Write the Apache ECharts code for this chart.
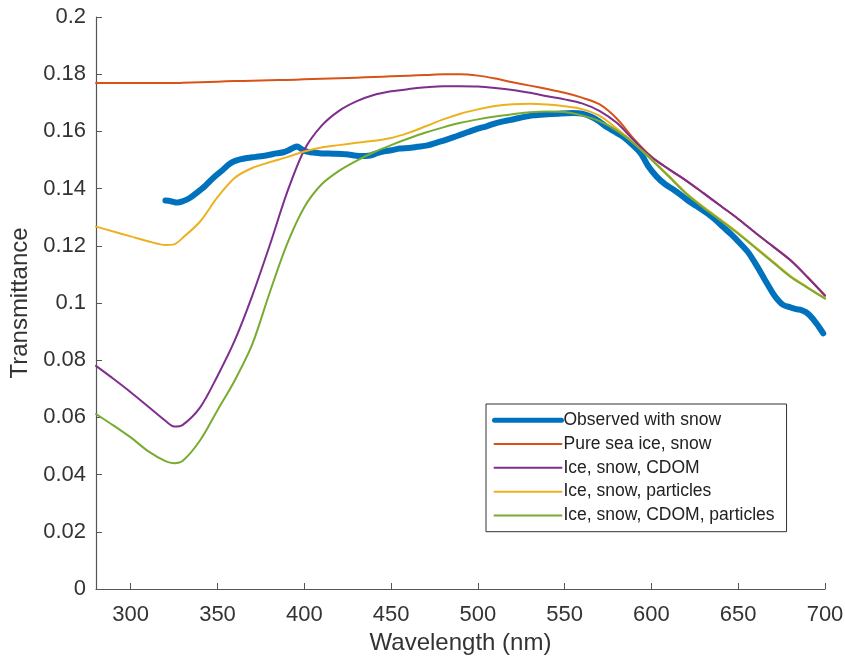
<!DOCTYPE html>
<html>
<head>
<meta charset="utf-8">
<script src="https://cdn.jsdelivr.net/npm/echarts@6/dist/echarts.min.js"></script>
<style>
  html, body { margin: 0; padding: 0; background: #fff; }
  #chart { width: 845px; height: 660px; }
</style>
</head>
<body>
<div id="chart"></div>
<script>
// Wavelength grid (nm) for the modelled spectra
const modelWl = [280, 290, 300, 310, 320, 325, 330, 340, 350, 360, 370, 380, 390, 400, 410, 420, 430, 440, 450, 460, 470, 480, 490, 500, 510, 520, 530, 540, 550, 560, 570, 580, 590, 600, 610, 620, 630, 640, 650, 660, 670, 680, 690, 700];

// Modelled transmittance
const pureIceSnow = [0.1769, 0.1769, 0.1769, 0.1769, 0.1769, 0.1769, 0.1770, 0.1772, 0.1774, 0.1776, 0.1777, 0.1779, 0.1780, 0.1782, 0.1784, 0.1786, 0.1788, 0.1790, 0.1793, 0.1795, 0.1797, 0.1800, 0.1800, 0.1795, 0.1785, 0.1772, 0.1760, 0.1748, 0.1735, 0.1718, 0.1695, 0.1645, 0.1573, 0.1512, 0.1468, 0.1428, 0.1384, 0.1339, 0.1294, 0.1245, 0.1198, 0.1150, 0.1090, 0.1027];
const iceSnowCdom = [0.0780, 0.0735, 0.0688, 0.0638, 0.0588, 0.0568, 0.0574, 0.0635, 0.0745, 0.0870, 0.1025, 0.1200, 0.1385, 0.1535, 0.1620, 0.1672, 0.1705, 0.1727, 0.1740, 0.1748, 0.1754, 0.1758, 0.1758, 0.1757, 0.1752, 0.1745, 0.1735, 0.1723, 0.1712, 0.1698, 0.1672, 0.1630, 0.1568, 0.1510, 0.1468, 0.1428, 0.1384, 0.1339, 0.1294, 0.1245, 0.1198, 0.1150, 0.1090, 0.1025];
const iceSnowParticles = [0.1267, 0.1250, 0.1233, 0.1216, 0.1203, 0.1205, 0.1228, 0.1285, 0.1370, 0.1438, 0.1472, 0.1492, 0.1510, 0.1530, 0.1544, 0.1552, 0.1560, 0.1567, 0.1577, 0.1595, 0.1618, 0.1642, 0.1662, 0.1677, 0.1689, 0.1695, 0.1697, 0.1694, 0.1688, 0.1678, 0.1655, 0.1610, 0.1558, 0.1503, 0.1445, 0.1385, 0.1336, 0.1291, 0.1245, 0.1195, 0.1145, 0.1095, 0.1055, 0.1017];
const iceSnowCdomParticles = [0.0612, 0.0572, 0.0530, 0.0482, 0.0447, 0.0440, 0.0448, 0.0520, 0.0625, 0.0730, 0.0855, 0.1035, 0.1205, 0.1335, 0.1415, 0.1462, 0.1497, 0.1527, 0.1552, 0.1575, 0.1596, 0.1614, 0.1630, 0.1642, 0.1652, 0.1660, 0.1667, 0.1670, 0.1668, 0.1656, 0.1636, 0.1603, 0.1557, 0.1501, 0.1442, 0.1382, 0.1333, 0.1288, 0.1242, 0.1192, 0.1142, 0.1092, 0.1053, 0.1015];

// Observed spectrum under snow
const obsWl = [320, 323, 327, 330, 334, 338, 343, 348, 353, 356, 359, 363, 367, 372, 378, 384, 388, 391, 394, 396, 398, 401, 405, 410, 417, 424, 432, 438, 442, 446, 450, 455, 460, 465, 471, 476, 482, 488, 494, 500, 505, 511, 517, 524, 532, 540, 548, 555, 560, 565, 570, 574, 580, 584, 590, 594, 598, 603, 608, 613, 618, 622, 627, 632, 637, 641, 646, 651, 656, 661, 665, 670, 673, 676, 680, 684, 686, 689, 691, 693, 695, 697, 699];
const observed = [0.1358, 0.1356, 0.1351, 0.1356, 0.1367, 0.1385, 0.1410, 0.1440, 0.1465, 0.1482, 0.1494, 0.1502, 0.1507, 0.1511, 0.1516, 0.1523, 0.1527, 0.1534, 0.1544, 0.1547, 0.1540, 0.1530, 0.1526, 0.1523, 0.1522, 0.1520, 0.1514, 0.1516, 0.1524, 0.1530, 0.1534, 0.1540, 0.1542, 0.1546, 0.1551, 0.1560, 0.1571, 0.1584, 0.1597, 0.1610, 0.1618, 0.1630, 0.1638, 0.1647, 0.1656, 0.1660, 0.1663, 0.1664, 0.1662, 0.1652, 0.1635, 0.1616, 0.1595, 0.1580, 0.1548, 0.1522, 0.1480, 0.1442, 0.1415, 0.1395, 0.1373, 0.1354, 0.1335, 0.1314, 0.1290, 0.1267, 0.1240, 0.1209, 0.1175, 0.1127, 0.1085, 0.1034, 0.1010, 0.0993, 0.0985, 0.0978, 0.0976, 0.0968, 0.0958, 0.0945, 0.0929, 0.0912, 0.0894];

const seriesNames = ['Observed with snow', 'Pure sea ice, snow', 'Ice, snow, CDOM', 'Ice, snow, particles', 'Ice, snow, CDOM, particles'];
const seriesColors = ['#0072BD', '#D95319', '#7E2F8E', '#EDB120', '#77AC30'];
const seriesWidths = [6, 2, 2, 2, 2];
const xTicks = [300, 350, 400, 450, 500, 550, 600, 650, 700];

const FONT = '"Liberation Sans", Arial, Helvetica, sans-serif';
const zip = (xs, ys) => xs.map((x, i) => [x, ys[i]]);

function lineSeries(i, xs, ys) {
  return {
    name: seriesNames[i],
    type: 'line',
    data: zip(xs, ys),
    showSymbol: false,
    symbol: 'none',
    smooth: 0.3,
    lineStyle: { color: seriesColors[i], width: seriesWidths[i], cap: 'round', join: 'round' },
    itemStyle: { color: seriesColors[i] },
    emphasis: { disabled: true },
    animation: false
  };
}

const chart = echarts.init(document.getElementById('chart'), null, { renderer: 'canvas' });
chart.setOption({
  backgroundColor: '#fff',
  animation: false,
  textStyle: { fontFamily: FONT },
  grid: { left: 96, top: 17, right: 20, bottom: 71, containLabel: false, outerBoundsMode: 'none' },
  legend: {
    orient: 'vertical',
    left: 486,
    top: 404,
    data: seriesNames.map((n, i) => ({ name: n, lineStyle: { width: i === 0 ? 5 : 2 } })),
    itemWidth: 67,
    itemHeight: 14,
    itemGap: 3.3,
    padding: [6, 12, 6, 6],
    backgroundColor: '#fff',
    borderColor: '#333',
    borderWidth: 1,
    selectedMode: false,
    itemStyle: { opacity: 0 },
    textStyle: { fontFamily: FONT, fontSize: 17.5, lineHeight: 20.5, color: '#222', padding: [0, 0, 0, -3] }
  },
  xAxis: {
    type: 'value',
    min: 280,
    max: 700,
    name: 'Wavelength (nm)',
    nameLocation: 'middle',
    nameGap: 38,
    nameTextStyle: { fontFamily: FONT, fontSize: 24, color: '#333' },
    axisLine: { show: true, onZero: false, lineStyle: { color: '#555', width: 1.2 } },
    axisTick: { show: true, inside: true, length: 6, customValues: xTicks, lineStyle: { color: '#555' } },
    axisLabel: { customValues: xTicks, fontFamily: FONT, fontSize: 22, color: '#333', margin: 15 },
    splitLine: { show: false }
  },
  yAxis: {
    type: 'value',
    min: 0,
    max: 0.2,
    interval: 0.02,
    name: 'Transmittance',
    nameLocation: 'middle',
    nameRotate: 90,
    nameGap: 64,
    nameTextStyle: { fontFamily: FONT, fontSize: 24, color: '#333' },
    axisLine: { show: true, onZero: false, lineStyle: { color: '#555', width: 1.2 } },
    axisTick: { show: true, inside: true, length: 6, lineStyle: { color: '#555' } },
    axisLabel: {
      fontFamily: FONT, fontSize: 22, color: '#333', margin: 10,
      formatter: v => String(+v.toFixed(2))
    },
    splitLine: { show: false }
  },
  series: [
    lineSeries(0, obsWl, observed),
    lineSeries(1, modelWl, pureIceSnow),
    lineSeries(2, modelWl, iceSnowCdom),
    lineSeries(3, modelWl, iceSnowParticles),
    lineSeries(4, modelWl, iceSnowCdomParticles)
  ]
});
</script>
</body>
</html>
